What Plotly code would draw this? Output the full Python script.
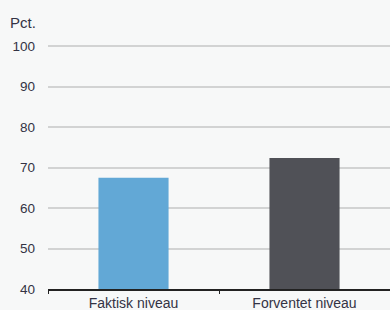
import plotly.graph_objects as go

categories = ["Faktisk niveau", "Forventet niveau"]
values = [67.5, 72.4]
bar_colors = ["#62a8d6", "#505157"]
y_ticks = [40, 50, 60, 70, 80, 90, 100]

fig = go.Figure()
fig.add_trace(go.Bar(x=categories, y=values, marker=dict(color=bar_colors, line=dict(width=0)),
                     width=0.41, showlegend=False))

fig.update_layout(
    width=390, height=310,
    margin=dict(l=48, r=0, t=45, b=21),
    paper_bgcolor="#f7f8f8", plot_bgcolor="#f7f8f8",
    font=dict(family="Liberation Sans, Arial, sans-serif", size=14, color="#333344"),
    xaxis=dict(showline=True, linecolor="#222222", linewidth=1.5, ticks="outside",
               tickson="boundaries", ticklen=3, tickcolor="#222222", automargin=False,
               showgrid=False, tickfont=dict(size=14, color="#333344")),
    yaxis=dict(range=[40, 100.3], tickvals=y_ticks, showgrid=True, gridcolor="#d2d3d3",
               gridwidth=1.5, zeroline=False, showline=False, ticks="", automargin=False,
               ticklabelstandoff=12, tickfont=dict(size=13.5, color="#333344")),
    annotations=[dict(text="Pct.", xref="paper", yref="paper", x=-48/342, y=1 + 23/244,
                      xanchor="left", yanchor="middle", showarrow=False,
                      xshift=8, font=dict(size=15, color="#333344"))],
)

fig.write_html("out.html", config={"displayModeBar": False},
               post_script="document.body.style.margin='0';")
